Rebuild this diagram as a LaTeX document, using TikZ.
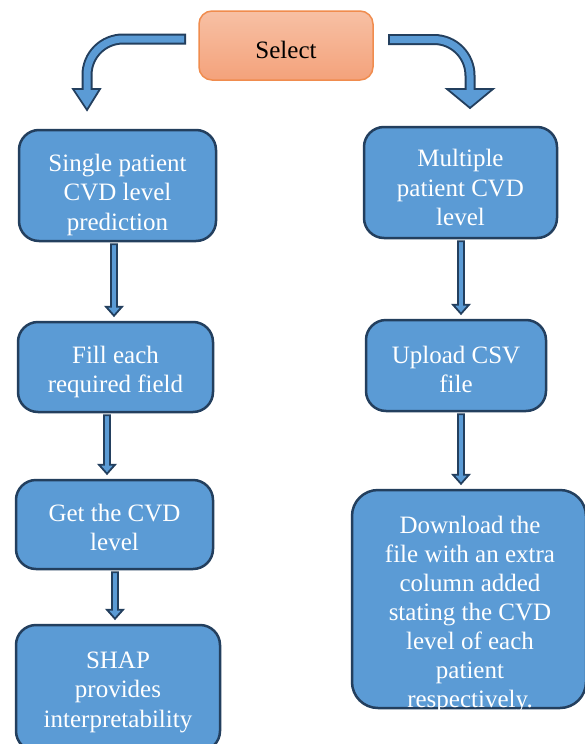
\documentclass[tikz,border=0pt]{standalone}
\usepackage{fontspec}
\setmainfont{Liberation Serif}
\newfontfamily\tnr{Liberation Serif}
\usetikzlibrary{calc}
\definecolor{boxblue}{HTML}{5B9BD5}
\definecolor{boxdark}{HTML}{233F5E}
\definecolor{selfillt}{HTML}{F7C0A4}
\definecolor{selfillb}{HTML}{F4A27B}
\definecolor{seldraw}{HTML}{F08C4E}
\tikzset{
 bluebox/.style={draw=boxdark, line width=2.5pt, fill=boxblue, rounded corners=20pt, inner sep=0pt},
 selbox/.style={draw=seldraw, line width=1.5pt, top color=selfillt, bottom color=selfillb, rounded corners=13pt, inner sep=0pt},
 blkarrow/.style={draw=boxdark, line width=1.8pt, fill=boxblue, line join=miter},
 curveout/.style={draw=boxdark, line width=11pt, rounded corners=36pt},
 curvein/.style={draw=boxblue, line width=7pt, rounded corners=36pt},
 wtext/.style={text=white, font=\tnr\fontsize{25}{29.5}\selectfont, align=center, inner sep=0pt},
 btext/.style={text=black, font=\tnr\fontsize{25}{29.5}\selectfont, align=center, inner sep=0pt},
}
\newcommand\vblk[3]{\draw[blkarrow] let \p1=(#2.south), \p2=(#3.north) in (#1-3,\y1-2) -- (#1+3,\y1-2) -- (#1+3,\y2+14) -- (#1+8,\y2+14) -- (#1,\y2+5) -- (#1-8,\y2+14) -- (#1-3,\y2+14) -- cycle;}
\begin{document}
\begin{tikzpicture}[x=1pt,y=-1pt]
\clip (0,0) rectangle (585,744);
\fill[white] (0,0) rectangle (585,744);
% select box
\node[selbox, minimum width=174pt, minimum height=69pt, label={[btext,yshift=-4pt]center:Select}] (sel) at (286,45.5) {};
% left column
\node[bluebox, minimum width=197pt, minimum height=111pt, label={[wtext,yshift=-9pt]center:{Single patient\\CVD level\\prediction}}] (b1) at (117.5,185.5) {};
\node[bluebox, minimum width=195pt, minimum height=90pt, label={[wtext,yshift=-5pt]center:{Fill each\\required field}}] (b2) at (115.5,367) {};
\node[bluebox, minimum width=197pt, minimum height=89pt, label={[wtext,yshift=-3pt]center:{Get the CVD\\level}}] (b3) at (114.5,524.5) {};
\node[bluebox, minimum width=204pt, minimum height=126pt, label={[wtext,yshift=-4pt]center:{SHAP\\provides\\interpretability}}] (b4) at (118,688) {};
% right column
\node[bluebox, minimum width=193pt, minimum height=111pt, label={[wtext,yshift=-5pt]center:{Multiple\\patient CVD\\level}}] (b5) at (460.5,182.5) {};
\node[bluebox, minimum width=180pt, minimum height=91pt, label={[wtext,yshift=-4pt]center:{Upload CSV\\file}}] (b6) at (456,365.5) {};
\node[bluebox, rounded corners=26pt, minimum width=234pt, minimum height=218pt] (b7) at (469,599) {};
\node[wtext, font=\tnr\fontsize{25}{29}\selectfont] (t7) at (470,615) {Download the\\file with an extra\\column added\\stating the CVD\\level of each\\patient\\respectively.};
% straight arrows
\vblk{114}{b1}{b2}
\vblk{107}{b2}{b3}
\vblk{115}{b3}{b4}
\vblk{461}{b5}{b6}
\vblk{461}{b6}{b7}
% curved arrows
\coordinate (lstart) at (186,39);
\coordinate (lend) at (87,91);
\coordinate (rstart) at (388,39.5);
\coordinate (rend) at (470,91);
\draw[curveout] (lstart) -- (87,39) -- (lend);
\draw[blkarrow] (73,89) -- (100,89) -- (87,110) -- cycle;
\draw[curvein, shorten <=2pt] (lstart) -- (87,39) -- (lend);
\draw[curveout] (rstart) -- (470,39.5) -- (rend);
\draw[blkarrow] (447,89) -- (493,89) -- (470,108) -- cycle;
\draw[curvein, shorten <=2pt] (rstart) -- (470,39.5) -- (rend);
\end{tikzpicture}
\end{document}
